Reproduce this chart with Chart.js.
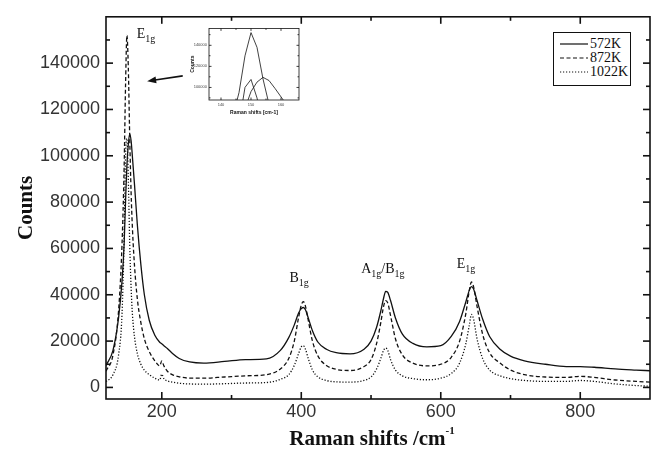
<!DOCTYPE html>
<html>
<head>
<meta charset="utf-8">
<script src="https://cdn.jsdelivr.net/npm/chart.js@4.4.1/dist/chart.umd.min.js"></script>
<style>
  html, body { margin: 0; padding: 0; background: #fff; }
  #wrap { position: relative; width: 657px; height: 450px; overflow: hidden; }
  #main-chart { position: absolute; left: 0; top: 0; }
  #inset-chart { position: absolute; left: 186px; top: 24px; }
  #legend {
    position: absolute; left: 553px; top: 32px; width: 76px; height: 48px;
    border: 1px solid #111; background: #fff; padding-top: 4px; box-sizing: content-box;
    font-family: "Liberation Serif", "Times New Roman", serif; font-size: 14px; color: #111;
  }
  #legend .row { display: flex; align-items: center; height: 14px; line-height: 14px; }
  #legend svg { margin-left: 6px; margin-right: 2px; }
</style>
</head>
<body>
<div id="wrap">
  <canvas id="main-chart" width="657" height="450"></canvas>
  <canvas id="inset-chart" width="116" height="96"></canvas>
  <div id="legend"></div>
</div>
<script>
// Raman spectra (counts vs shift in cm-1)
const shifts = [120, 130, 138, 143, 146, 148, 150, 152, 154, 156,
  158, 161, 165, 170, 175, 182, 190, 197, 200, 203,
  208, 215, 225, 240, 260, 290, 320, 350, 370, 382,
  390, 396, 400, 403, 406, 410, 416, 424, 436, 450,
  470, 490, 500, 508, 514, 518, 521, 524, 528, 535,
  545, 560, 580, 600, 615, 627, 636, 641, 644, 647,
  652, 660, 670, 685, 700, 720, 750, 780, 800, 820,
  850, 880, 900];

const counts572K = [9500, 16000, 30000, 46000, 62000, 80000, 96000, 105000, 109500, 106500,
  99000, 87000, 70000, 53000, 40000, 29000, 22500, 19500, 18800, 18000,
  16800, 14800, 12500, 11000, 10500, 11200, 12000, 12300, 16000, 21500,
  27000, 32000, 34000, 34500, 33500, 30000, 24500, 19500, 16500, 15000,
  14500, 16500, 20000, 26000, 33000, 38500, 41500, 41000, 37500, 30000,
  23000, 19000, 17500, 18000, 22000, 28500, 37000, 42000, 43500, 42500,
  37500, 29500, 22000, 16500, 13500, 11500, 10000, 9000, 9000, 8700,
  8000, 7500, 7200];

const counts872K = [7000, 14000, 33000, 62000, 95000, 130000, 152000, 138000, 108000, 84000,
  68000, 52000, 38000, 28000, 21000, 15500, 11500, 9300, 11500, 9300,
  7000, 5500, 4600, 4000, 4000, 4500, 5000, 5500, 8000, 12500,
  20000, 30000, 35500, 37000, 35000, 29000, 20000, 13500, 9500, 7800,
  7300, 9000, 12000, 19000, 28000, 35000, 37500, 36500, 31000, 21000,
  14000, 10500, 9300, 10000, 13000, 20000, 32000, 42000, 45500, 43500,
  35000, 23000, 15000, 10500, 7500, 5500, 4500, 4300, 4800, 4300,
  3200, 2600, 2300];

const counts1022K = [2500, 5500, 14000, 32000, 65000, 100000, 107500, 90000, 62000, 43000,
  31000, 21500, 14500, 10000, 7500, 5500, 4000, 3200, 5700, 3800,
  2800, 2300, 1800, 1500, 1400, 1600, 1900, 2100, 3500, 5500,
  9500, 14500, 17500, 18000, 16500, 12500, 7500, 4500, 3000, 2400,
  2300, 3000, 4500, 8000, 12500, 16000, 17000, 16000, 12000, 7500,
  5000, 3800, 3300, 4000, 6000, 10500, 19000, 27000, 31500, 29500,
  21000, 12500, 7500, 5000, 3800, 3000, 2600, 2600, 3000, 2600,
  1500, 800, 500];

const seriesNames = ["572K", "872K", "1022K"];
const seriesCounts = [counts572K, counts872K, counts1022K];

const xTicksMajor = [200, 400, 600, 800];
const xTicksMinor = [300, 500, 700];
const yTicksMajor = [0, 20000, 40000, 60000, 80000, 100000, 120000, 140000];
const yTicksMinor = [10000, 30000, 50000, 70000, 90000, 110000, 130000, 150000];

const insetXTicksMajor = [140, 150, 160];
const insetXTicksMinor = [145, 155];
const insetYTicksMajor = [100000, 120000, 140000];
const insetYTicksMinor = [90000, 110000, 130000, 150000];

const ink = "#111";
const dashes = [[], [4, 2.5], [1.2, 1.8]];
const serif = "'Liberation Serif', 'Times New Roman', serif";
const sans = "'Liberation Sans', Arial, sans-serif";

function toPoints(values) {
  return shifts.map((x, i) => ({ x, y: values[i] }));
}

// inward ticks on all four sides plus the box, Origin style
function makeFramePlugin(cfg) {
  return {
    id: "frame",
    afterDraw(chart) {
      const { ctx, chartArea: area } = chart;
      const xs = chart.scales.x;
      const ys = chart.scales.y;
      const w = cfg.width;
      ctx.save();
      ctx.setLineDash([]);
      ctx.fillStyle = ink;
      const xMarks = (vals, len) => vals.forEach((v) => {
        const px = xs.getPixelForValue(v);
        ctx.fillRect(px - w / 2, area.bottom - len, w, len);
        ctx.fillRect(px - w / 2, area.top, w, len);
      });
      const yMarks = (vals, len) => vals.forEach((v) => {
        const py = ys.getPixelForValue(v);
        ctx.fillRect(area.left, py - w / 2, len, w);
        ctx.fillRect(area.right - len, py - w / 2, len, w);
      });
      xMarks(cfg.xMajor, cfg.major);
      xMarks(cfg.xMinor, cfg.minor);
      yMarks(cfg.yMajor, cfg.major);
      yMarks(cfg.yMinor, cfg.minor);
      ctx.strokeStyle = ink;
      ctx.lineWidth = w;
      ctx.strokeRect(area.left, area.top, area.right - area.left, area.bottom - area.top);
      ctx.restore();
    },
  };
}

function drawParts(ctx, x, y, parts, size, subSize, subShift, weight) {
  let cx = x;
  parts.forEach(([text, kind]) => {
    const s = kind === 0 ? size : subSize;
    const dy = kind === 1 ? subShift : kind === 2 ? -subShift : 0;
    ctx.font = `${weight} ${s}px ${serif}`;
    ctx.fillText(text, cx, y + dy);
    cx += ctx.measureText(text).width;
  });
  return cx - x;
}

function partsWidth(ctx, parts, size, subSize, weight) {
  return parts.reduce((w, [text, kind]) => {
    ctx.font = `${weight} ${kind === 0 ? size : subSize}px ${serif}`;
    return w + ctx.measureText(text).width;
  }, 0);
}

// peak labels and arrow, placed in data units
const peakLabels = [
  { x: 164, y: 151000, parts: [["E", 0], ["1g", 1]] },
  { x: 383, y: 45500, parts: [["B", 0], ["1g", 1]] },
  { x: 486, y: 49500, parts: [["A", 0], ["1g", 1], ["/B", 0], ["1g", 1]] },
  { x: 623, y: 51500, parts: [["E", 0], ["1g", 1]] },
];

const annotationPlugin = {
  id: "annotations",
  afterDraw(chart) {
    const { ctx, chartArea: area, scales } = chart;
    ctx.save();
    ctx.fillStyle = ink;
    ctx.textBaseline = "alphabetic";
    ctx.textAlign = "left";

    peakLabels.forEach((label) => {
      drawParts(ctx, scales.x.getPixelForValue(label.x), scales.y.getPixelForValue(label.y),
        label.parts, 14, 10, 4, "normal");
    });

    // arrow pointing from the inset to the E1g peak
    const x1 = scales.x.getPixelForValue(230);
    const y1 = scales.y.getPixelForValue(134500);
    const x2 = scales.x.getPixelForValue(179);
    const y2 = scales.y.getPixelForValue(132200);
    const ang = Math.atan2(y2 - y1, x2 - x1);
    ctx.strokeStyle = ink;
    ctx.lineWidth = 1.6;
    ctx.beginPath();
    ctx.moveTo(x1, y1);
    ctx.lineTo(x2 - 8 * Math.cos(ang), y2 - 8 * Math.sin(ang));
    ctx.stroke();
    ctx.beginPath();
    ctx.moveTo(x2, y2);
    ctx.lineTo(x2 - 9 * Math.cos(ang) + 3.5 * Math.sin(ang), y2 - 9 * Math.sin(ang) - 3.5 * Math.cos(ang));
    ctx.lineTo(x2 - 9 * Math.cos(ang) - 3.5 * Math.sin(ang), y2 - 9 * Math.sin(ang) + 3.5 * Math.cos(ang));
    ctx.closePath();
    ctx.fill();

    // axis titles
    const xTitle = [["Raman shifts /cm", 0], ["-1", 2]];
    const w = partsWidth(ctx, xTitle, 21, 11, "bold");
    drawParts(ctx, (area.left + area.right) / 2 - 6 - w / 2, 445, xTitle, 21, 11, 11, "bold");

    ctx.translate(27, (area.top + area.bottom) / 2);
    ctx.rotate(-Math.PI / 2);
    ctx.textAlign = "center";
    ctx.textBaseline = "middle";
    ctx.font = `bold 21px ${serif}`;
    ctx.fillText("Counts", 0, 0);
    ctx.restore();
  },
};

const insetTitlePlugin = {
  id: "insetTitles",
  afterDraw(chart) {
    const { ctx, chartArea: area } = chart;
    ctx.save();
    ctx.fillStyle = ink;
    ctx.font = `bold 5px ${sans}`;
    ctx.textAlign = "center";
    ctx.textBaseline = "middle";
    ctx.fillText("Raman shifts [cm-1]", (area.left + area.right) / 2, 89);
    ctx.translate(7, (area.top + area.bottom) / 2);
    ctx.rotate(-Math.PI / 2);
    ctx.fillText("Counts", 0, 0);
    ctx.restore();
  },
};

function lineDatasets(width, useDashes, tension) {
  return seriesNames.map((name, i) => ({
    label: name,
    data: toPoints(seriesCounts[i]),
    borderColor: ink,
    borderWidth: width,
    borderDash: useDashes ? dashes[i] : [],
    pointRadius: 0,
    fill: false,
    tension: tension,
    cubicInterpolationMode: tension ? "monotone" : "default",
  }));
}

const hiddenGrid = { display: false, drawTicks: false };

new Chart(document.getElementById("main-chart"), {
  type: "line",
  data: { datasets: lineDatasets(1.3, true, 0.4) },
  options: {
    responsive: false,
    animation: false,
    devicePixelRatio: 1,
    layout: { padding: { top: 15, right: 7, left: 0, bottom: 0 } },
    plugins: { legend: { display: false }, tooltip: { enabled: false } },
    scales: {
      x: {
        type: "linear",
        min: 120,
        max: 900,
        grid: hiddenGrid,
        border: { display: false },
        afterBuildTicks: (scale) => { scale.ticks = xTicksMajor.map((value) => ({ value })); },
        afterFit: (scale) => { scale.height = 51; },
        ticks: { color: "#333", font: { family: sans, size: 18 }, padding: 2, maxRotation: 0, callback: (v) => String(v) },
      },
      y: {
        min: -5000,
        max: 160000,
        grid: hiddenGrid,
        border: { display: false },
        afterBuildTicks: (scale) => { scale.ticks = yTicksMajor.map((value) => ({ value })); },
        afterFit: (scale) => { scale.width = 106; },
        ticks: { color: "#333", font: { family: sans, size: 18 }, padding: 6, callback: (v) => String(v) },
      },
    },
  },
  plugins: [
    makeFramePlugin({ width: 1.6, major: 7, minor: 4, xMajor: xTicksMajor, xMinor: xTicksMinor, yMajor: yTicksMajor, yMinor: yTicksMinor }),
    annotationPlugin,
  ],
});

new Chart(document.getElementById("inset-chart"), {
  type: "line",
  data: { datasets: lineDatasets(0.8, false, 0) },
  options: {
    responsive: false,
    animation: false,
    devicePixelRatio: 1,
    layout: { padding: { top: 4, right: 3, left: 0, bottom: 0 } },
    plugins: { legend: { display: false }, tooltip: { enabled: false } },
    scales: {
      x: {
        type: "linear",
        min: 136,
        max: 166,
        grid: hiddenGrid,
        border: { display: false },
        afterBuildTicks: (scale) => { scale.ticks = insetXTicksMajor.map((value) => ({ value })); },
        afterFit: (scale) => { scale.height = 20; },
        ticks: { color: "#444", font: { family: sans, size: 4 }, padding: 2, maxRotation: 0, callback: (v) => String(v) },
      },
      y: {
        min: 88000,
        max: 156000,
        grid: hiddenGrid,
        border: { display: false },
        afterBuildTicks: (scale) => { scale.ticks = insetYTicksMajor.map((value) => ({ value })); },
        afterFit: (scale) => { scale.width = 23; },
        ticks: { color: "#444", font: { family: sans, size: 4 }, padding: 2, callback: (v) => String(v) },
      },
    },
  },
  plugins: [
    makeFramePlugin({ width: 0.8, major: 2.5, minor: 1.5, xMajor: insetXTicksMajor, xMinor: insetXTicksMinor, yMajor: insetYTicksMajor, yMinor: insetYTicksMinor }),
    insetTitlePlugin,
  ],
});

// legend box
const legend = document.getElementById("legend");
legend.innerHTML = seriesNames.map((name, i) => `
  <div class="row">
    <svg width="28" height="6"><line x1="0" y1="3" x2="28" y2="3" stroke="${ink}" stroke-width="1.2"
      stroke-dasharray="${dashes[i].join(" ")}"/></svg><span>${name}</span>
  </div>`).join("");
</script>
</body>
</html>
